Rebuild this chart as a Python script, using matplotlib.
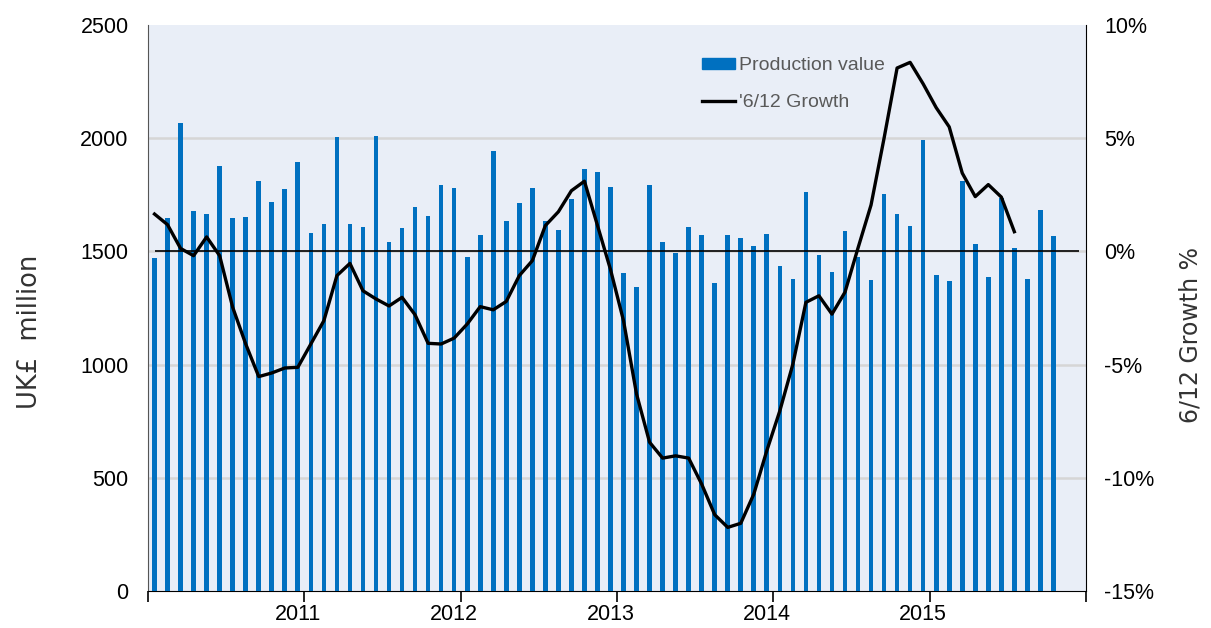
import numpy as np
import pandas as pd
import matplotlib
matplotlib.use("Agg")
import matplotlib.pyplot as plt
from matplotlib.patches import Patch
from matplotlib.lines import Line2D

plt.rcParams["font.family"] = ["Liberation Sans", "DejaVu Sans"]

# monthly production value, UK£ million (Jan 2010 - Oct 2015)
months = pd.date_range("2010-01-01", periods=70, freq="MS")
production = [
    1469, 1646, 2066, 1678, 1665, 1876, 1646, 1650, 1811, 1720, 1774, 1893,
    1583, 1621, 2007, 1620, 1606, 2010, 1543, 1602, 1696, 1656, 1795, 1780,
    1475, 1574, 1943, 1634, 1714, 1780, 1636, 1593, 1730, 1865, 1852, 1784,
    1403, 1343, 1792, 1540, 1493, 1609, 1572, 1360, 1574, 1559, 1522, 1578,
    1434, 1378, 1762, 1484, 1408, 1589, 1475, 1374, 1753, 1665, 1612, 1991,
    1394, 1368, 1811, 1534, 1386, 1736, 1515, 1378, 1683, 1569,
]
# 6/12 growth %, Jan 2010 - Jul 2015
growth = [
    1.65, 1.18, 0.13, -0.19, 0.64, -0.19, -2.47, -4.09, -5.53, -5.37, -5.15, -5.12,
    -4.09, -3.06, -1.07, -0.53, -1.74, -2.10, -2.41, -2.03, -2.80, -4.06, -4.09, -3.83,
    -3.21, -2.44, -2.58, -2.21, -1.07, -0.41, 1.14, 1.75, 2.68, 3.10, 1.15, -0.80,
    -3.06, -6.30, -8.43, -9.13, -9.03, -9.13, -10.28, -11.63, -12.19, -12.01, -10.72, -8.80,
    -7.04, -4.98, -2.25, -1.96, -2.77, -1.80, 0.15, 2.05, 5.00, 8.10, 8.35, 7.40,
    6.35, 5.50, 3.46, 2.42, 2.95, 2.40, 0.87,
]
years = ["2011", "2012", "2013", "2014", "2015"]
left_ticks = [0, 500, 1000, 1500, 2000, 2500]
right_ticks = [-15, -10, -5, 0, 5, 10]

blue = "#0070C0"
x_bar = np.arange(len(production))
x_line = np.arange(len(growth))

fig = plt.figure(figsize=(12.11, 6.28), dpi=100)
ax = fig.add_axes([148/1211, 37/628, 938/1211, 566/628])
ax.set_facecolor("#E9EEF7")

ax.bar(x_bar, production, width=0.36, color=blue, zorder=3)
ax.set_xlim(-0.5, 71.5)
ax.set_ylim(0, 2500)
ax.set_yticks(left_ticks)
for v in left_ticks[1:-1]:
    ax.axhline(v, color="#D6D6D6", lw=1.8, zorder=1)
ax.tick_params(axis="y", length=0, labelsize=15.5, pad=14)

# year boundaries as major ticks, year labels as minor ticks
ax.set_xticks(np.arange(-0.5, 72, 12))
ax.set_xticklabels([])
ax.set_xticks(np.arange(11, 60, 12), minor=True)
ax.set_xticklabels(years, minor=True)
ax.tick_params(axis="x", which="major", length=8, width=1.2, direction="out")
ax.tick_params(axis="x", which="minor", length=0, labelsize=15.5, pad=9)

ax.spines["top"].set_visible(False)
ax.spines["left"].set_color("#555555")
ax.spines["bottom"].set_color("black")
ax.spines["right"].set_visible(False)

ax2 = ax.twinx()
ax2.set_ylim(-15, 10)
ax2.set_yticks(right_ticks)
ax2.set_yticklabels([f"{t}%" for t in right_ticks])
ax2.tick_params(axis="y", length=0, labelsize=15.5, pad=13)
ax2.hlines(0, 0, 71, color="black", lw=1.2)
ax2.plot(x_line, growth, color="black", lw=2.4)
ax2.spines["top"].set_visible(False)
ax2.spines["left"].set_visible(False)
ax2.spines["bottom"].set_visible(False)
ax2.spines["right"].set_color("black")

fig.text(30/1211, 1 - 332/628, "UK£  million", rotation=90, ha="center", va="center",
         fontsize=18.5, color="#333333", family="DejaVu Sans")
fig.text(1190/1211, 1 - 335/628, "6/12 Growth %", rotation=90, ha="center", va="center",
         fontsize=17, color="#333333", family="DejaVu Sans")

handles = [Patch(color=blue), Line2D([], [], color="black", lw=2.4)]
leg = ax.legend(handles, ["Production value", "'6/12 Growth"], loc="upper left",
                bbox_to_anchor=(702/1211, 1 - 57/628), bbox_transform=fig.transFigure,
                frameon=False, fontsize=14, handlelength=1.7, handleheight=0.5,
                handletextpad=0.2, labelspacing=1.05, borderaxespad=0, borderpad=0)
for t in leg.get_texts():
    t.set_color("#595959")

fig.savefig("out.png", dpi=100)
